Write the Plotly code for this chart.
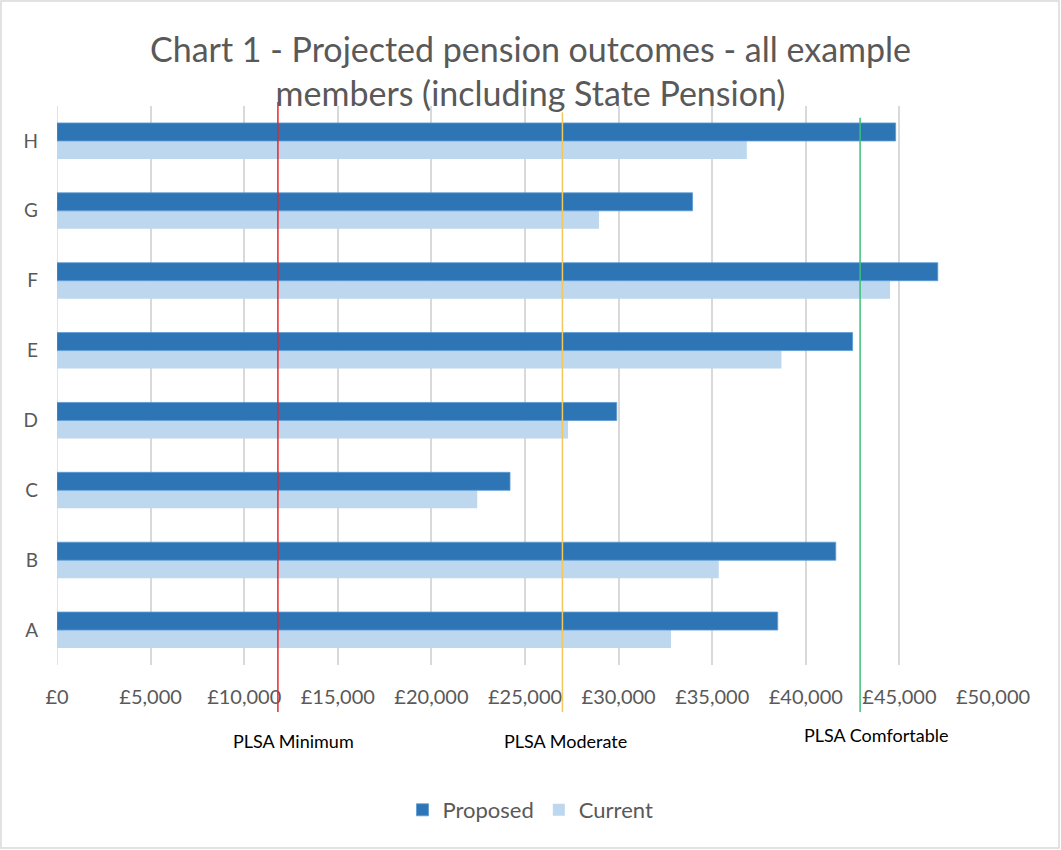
import plotly.graph_objects as go

categories = ["A", "B", "C", "D", "E", "F", "G", "H"]
proposed = [38500, 41600, 24200, 29900, 42500, 47050, 33950, 44800]
current = [32800, 35350, 22450, 27300, 38700, 44500, 28950, 36850]
plsa_names = ["PLSA Minimum", "PLSA Moderate", "PLSA Comfortable"]
plsa_values = [11800, 27000, 42900]
plsa_colors = ["#E8262A", "#F2C75C", "#3DBF78"]
plsa_tops = [1.007, 0.989, 0.979]
x_ticks = [0, 5000, 10000, 15000, 20000, 25000, 30000, 35000, 40000, 45000, 50000]
x_tick_labels = ["£{:,}".format(v) for v in x_ticks]

FONT = "Lato, 'Open Sans', sans-serif"
GREY = "#595959"
L, R, T, B = 57, 68, 106, 185
W, H = 1061, 850
PW, PH = W - L - R, H - T - B

def px_x(px):
    return (px - L) / PW

def px_y(py):
    return (H - B - py) / PH

label_px = [(293, 741), (565, 741), (876, 735)]

fig = go.Figure()
fig.add_trace(go.Bar(y=categories, x=current, orientation="h", name="Current",
                     marker=dict(color="#BDD7EE", line=dict(width=0)), legendrank=2))
fig.add_trace(go.Bar(y=categories, x=proposed, orientation="h", name="Proposed",
                     marker=dict(color="#2E75B6", line=dict(color="#5B9BD5", width=0.8)), legendrank=1))

shapes = [dict(type="line", xref="x", yref="paper", x0=0, x1=0, y0=0, y1=1,
               line=dict(color="#D9D9D9", width=1.5), layer="below")]
annotations = []
for name, val, col, top, (lx, ly) in zip(plsa_names, plsa_values, plsa_colors, plsa_tops, label_px):
    shapes.append(dict(type="line", xref="x", yref="paper", x0=val, x1=val, y0=px_y(712), y1=top,
                       line=dict(color=col, width=1.5), layer="above"))
    annotations.append(dict(xref="paper", yref="paper", x=px_x(lx), y=px_y(ly), text=name, showarrow=False,
                            xanchor="center", yanchor="middle",
                            font=dict(family=FONT, size=18, color="#000000")))

# chart outer border
shapes.append(dict(type="rect", xref="paper", yref="paper", x0=px_x(1), x1=px_x(1059), y0=px_y(848), y1=px_y(1),
                   line=dict(color="#D9D9D9", width=1.5), fillcolor="rgba(0,0,0,0)", layer="below"))

fig.update_layout(
    width=W, height=H,
    margin=dict(l=L, r=R, t=T, b=B),
    paper_bgcolor="white", plot_bgcolor="white",
    barmode="group", bargap=0.485, bargroupgap=0,
    title=dict(text="Chart 1 - Projected pension outcomes - all example<br>members (including State Pension)",
               x=0.5, xref="container", xanchor="center", y=1 - 62 / 850, yref="container", yanchor="middle",
               font=dict(family=FONT, size=34, color=GREY)),
    xaxis=dict(range=[0, 50000], tickvals=x_ticks, ticktext=x_tick_labels, showgrid=True,
               gridcolor="#D9D9D9", gridwidth=1.5, zeroline=False, showline=False,
               tickfont=dict(family=FONT, size=20, color=GREY), ticks="", ticklabelstandoff=18),
    yaxis=dict(categoryorder="array", categoryarray=categories, showgrid=False, zeroline=False,
               showline=False, tickfont=dict(family=FONT, size=19, color=GREY), ticks="",
               ticklabelstandoff=18),
    legend=dict(orientation="h", x=0.5, xref="container", xanchor="center", y=1 - 810 / 850,
                yref="container", yanchor="middle", font=dict(family=FONT, size=22, color=GREY)),
    shapes=shapes, annotations=annotations,
)

fig.write_html("out.html")
